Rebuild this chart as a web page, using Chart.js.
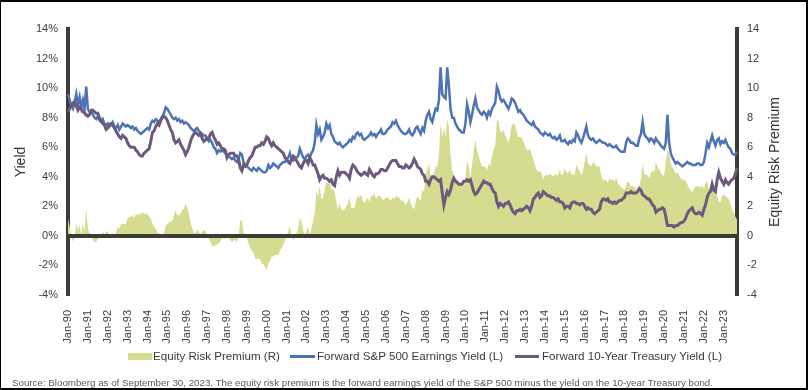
<!DOCTYPE html>
<html>
<head>
<meta charset="utf-8">
<script src="https://cdn.jsdelivr.net/npm/chart.js@4"></script>
<style>
  body { margin: 0; background: #fff; }
  #wrap { position: relative; width: 809px; height: 390px; font-family: 'Liberation Sans', Arial, sans-serif; }
  #frame { position: absolute; left: 0; top: 0; width: 808px; height: 390px; box-sizing: border-box;
           border: 2px solid #000; border-left-width: 1px; pointer-events: none; }
  .lg { position: absolute; top: 349px; font-size: 11.6px; line-height: 14px; color: #3a3a3a; white-space: nowrap; }
  .mk { position: absolute; }
  #src { position: absolute; left: 12px; top: 378px; font-size: 9.75px; line-height: 10px; color: #595959; white-space: nowrap; }
</style>
</head>
<body>
<div id="wrap">
  <canvas id="grafico" width="809" height="390"></canvas>
  <span class="mk" style="left:128px;top:353px;width:24px;height:7px;background:#d5db8f"></span>
  <span class="lg" style="left:153px">Equity Risk Premium (R)</span>
  <span class="mk" style="left:290px;top:355px;width:25px;height:3px;background:#4d73b6"></span>
  <span class="lg" style="left:317px">Forward S&amp;P 500 Earnings Yield (L)</span>
  <span class="mk" style="left:515px;top:355px;width:24px;height:3px;background:#6b5a7b"></span>
  <span class="lg" style="left:542px">Forward 10-Year Treasury Yield (L)</span>
  <div id="src">Source: Bloomberg as of September 30, 2023. The equity risk premium is the forward earnings yield of the S&amp;P 500 minus the yield on the 10-year Treasury bond.</div>
  <div id="frame"></div>
</div>
<script>
// monthly data, Jan-90 .. Sep-23 (one row per year)
const mesesNombres = ["Jan", "Feb", "Mar", "Apr", "May", "Jun", "Jul", "Aug", "Sep", "Oct", "Nov", "Dec"];
const anios = ["90", "91", "92", "93", "94", "95", "96", "97", "98", "99", "00", "01", "02", "03", "04", "05", "06",
  "07", "08", "09", "10", "11", "12", "13", "14", "15", "16", "17", "18", "19", "20", "21", "22", "23"];
const mesesUltimoAnio = 9;

// Forward S&P 500 Earnings Yield (L), %
const earningsYield = [
  9.6, 9.2, 8.8, 8.6, 9.0, 9.6, 8.9, 9.4, 8.7, 9.2, 8.6, 10.1,
  8.6, 8.4, 8.5, 8.2, 8.0, 7.9, 8.1, 7.8, 7.7, 7.9, 7.6, 7.5,
  7.6, 7.4, 7.5, 7.7, 7.4, 7.3, 7.5, 7.2, 7.4, 7.6, 7.5, 7.4,
  7.5, 7.4, 7.3, 7.4, 7.2, 7.3, 7.1, 7.0, 6.9, 7.0, 7.1, 7.2,
  7.3, 7.2, 7.6, 7.8, 7.7, 7.9, 7.8, 7.7, 7.9, 8.1, 8.3, 8.7,
  8.6, 8.4, 8.2, 8.0, 7.9, 8.0, 7.8, 7.9, 7.7, 7.8, 7.6, 7.7,
  7.6, 7.5, 7.3, 7.2, 7.1, 7.2, 7.3, 7.1, 7.0, 6.9, 6.8, 6.8,
  6.6, 6.4, 6.5, 6.3, 6.0, 5.9, 5.6, 5.8, 5.7, 5.8, 5.7, 5.6,
  5.5, 5.4, 5.3, 5.2, 5.3, 5.1, 5.0, 5.2, 5.6, 5.5, 5.0, 4.8,
  4.7, 4.6, 4.5, 4.4, 4.6, 4.5, 4.4, 4.6, 4.5, 4.4, 4.3, 4.3,
  4.4, 4.8, 4.6, 4.7, 4.9, 4.8, 4.7, 4.6, 4.8, 4.9, 5.0, 5.0,
  5.2, 5.3, 5.6, 5.2, 5.1, 5.2, 5.3, 5.4, 5.9, 5.6, 5.3, 5.2,
  5.4, 5.5, 5.3, 5.6, 5.8, 6.3, 7.5, 6.9, 7.2, 6.5, 6.7, 7.0,
  7.6, 7.3, 7.5, 6.9, 6.7, 6.4, 6.3, 6.2, 6.3, 6.1, 6.0, 6.1,
  6.2, 6.3, 6.5, 6.4, 6.7, 6.6, 6.9, 7.0, 6.8, 6.9, 6.6, 6.5,
  6.6, 6.7, 6.8, 7.0, 6.8, 6.9, 6.7, 6.9, 7.0, 7.2, 6.9, 6.9,
  7.0, 7.2, 7.3, 7.4, 7.7, 7.6, 7.8, 7.5, 7.3, 7.1, 7.0, 6.9,
  6.9, 7.0, 7.2, 6.9, 6.8, 7.0, 7.3, 7.4, 7.1, 6.9, 7.3, 7.1,
  7.8, 8.2, 8.4, 7.9, 7.7, 8.2, 8.6, 8.5, 9.2, 11.4, 9.6, 9.4,
  9.3, 11.4, 10.2, 8.6, 8.0, 8.0, 7.6, 7.4, 7.2, 7.1, 7.0, 7.0,
  7.6, 8.9, 8.4, 7.7, 8.2, 8.8, 9.3, 8.7, 8.5, 8.3, 8.2, 8.4,
  8.3, 8.0, 8.4, 8.2, 8.6, 8.8, 9.0, 10.1, 9.8, 9.3, 9.1, 9.2,
  9.0, 8.8, 8.6, 8.9, 9.3, 9.2, 9.0, 8.7, 8.4, 8.5, 8.3, 8.2,
  8.0, 7.8, 7.7, 7.6, 7.5, 7.7, 7.4, 7.3, 7.2, 7.0, 6.9, 6.8,
  7.0, 6.9, 6.8, 6.9, 6.7, 6.6, 6.7, 6.5, 6.6, 6.8, 6.4, 6.4,
  6.5, 6.3, 6.2, 6.4, 6.3, 6.5, 6.4, 7.0, 6.8, 6.5, 6.3, 6.6,
  7.0, 7.4, 6.8, 6.6, 6.5, 6.6, 6.4, 6.3, 6.4, 6.5, 6.4, 6.3,
  6.3, 6.2, 6.1, 6.2, 6.1, 6.0, 6.0, 6.1, 5.9, 5.8, 5.7, 5.7,
  5.7, 6.3, 6.6, 6.5, 6.3, 6.3, 6.2, 6.1, 6.1, 6.6, 6.9, 7.7,
  6.9, 6.7, 6.6, 6.4, 6.6, 6.5, 6.3, 6.6, 6.4, 6.3, 6.1, 6.0,
  5.9, 6.3, 8.2, 6.3, 5.6, 5.3, 5.1, 4.9, 5.0, 4.9, 4.8, 4.7,
  4.8, 4.9, 5.0, 4.9, 4.9, 4.8, 4.8, 4.8, 4.9, 4.9, 4.8, 4.8,
  5.0, 5.6, 6.3, 6.0, 6.4, 6.8, 6.4, 6.1, 6.5, 6.6, 6.2, 6.4,
  6.3, 6.5, 6.2, 6.0, 5.9, 5.6, 5.5, 5.5, 5.7
];

// Forward 10-Year Treasury Yield (L), %
const treasuryYield = [
  8.4, 8.6, 8.8, 9.0, 9.1, 8.8, 8.5, 8.7, 8.6, 8.4, 8.3, 8.2,
  8.1, 8.2, 8.4, 8.5, 8.4, 8.3, 8.3, 8.0, 7.8, 7.6, 7.5, 7.2,
  7.3, 7.5, 7.6, 7.5, 7.3, 7.1, 6.9, 6.7, 6.6, 6.8, 6.7, 6.6,
  6.3, 6.1, 6.0, 6.0, 6.0, 5.8, 5.7, 5.5, 5.4, 5.4, 5.6, 5.7,
  5.8, 5.9, 6.4, 7.0, 7.1, 7.4, 7.6, 7.5, 7.8, 8.0, 8.1, 8.0,
  7.8, 7.5, 7.2, 7.0, 6.5, 6.3, 6.4, 6.5, 6.2, 6.0, 5.8, 5.5,
  5.7, 6.0, 6.4, 6.7, 6.9, 7.0, 6.9, 6.8, 6.9, 6.6, 6.4, 6.5,
  6.6, 6.6, 6.9, 7.0, 6.7, 6.5, 6.2, 6.3, 6.1, 5.9, 5.9, 5.8,
  5.3, 5.5, 5.6, 5.6, 5.6, 5.4, 5.4, 5.2, 4.6, 4.4, 4.8, 4.7,
  4.8, 5.1, 5.3, 5.4, 5.7, 6.0, 6.0, 6.1, 6.1, 6.3, 6.2, 6.4,
  6.7, 6.6, 6.3, 6.1, 6.3, 6.1, 6.0, 5.9, 5.8, 5.7, 5.6, 5.3,
  5.2, 5.0, 4.9, 5.2, 5.4, 5.3, 5.1, 4.9, 4.7, 4.6, 4.9, 5.1,
  5.1, 4.9, 5.3, 5.1, 4.8, 4.8, 4.5, 4.2, 3.8, 4.0, 4.1, 3.9,
  3.9, 3.8, 3.7, 3.8, 3.5, 3.4, 4.0, 4.4, 4.1, 4.3, 4.3, 4.3,
  4.2, 4.1, 3.9, 4.5, 4.8, 4.7, 4.5, 4.3, 4.2, 4.1, 4.2, 4.3,
  4.2, 4.1, 4.5, 4.3, 4.1, 4.0, 4.2, 4.2, 4.3, 4.5, 4.5, 4.4,
  4.4, 4.6, 4.8, 5.0, 5.1, 5.1, 5.1, 4.9, 4.7, 4.7, 4.6, 4.6,
  4.8, 4.7, 4.6, 4.7, 4.9, 5.2, 5.0, 4.7, 4.6, 4.5, 4.2, 4.1,
  3.7, 3.7, 3.5, 3.8, 4.0, 4.0, 3.9, 3.8, 3.7, 3.8, 2.9, 2.1,
  2.6, 3.0, 2.8, 3.1, 3.6, 3.9, 3.7, 3.6, 3.5, 3.5, 3.5, 3.7,
  3.7, 3.8, 3.7, 3.8, 3.4, 3.0, 2.8, 2.9, 3.1, 3.3, 3.5, 3.7,
  3.6, 3.6, 3.5, 3.5, 3.2, 3.0, 2.9, 2.3, 2.0, 2.2, 2.1, 2.0,
  2.2, 2.2, 2.3, 2.1, 1.8, 1.6, 1.5, 1.7, 1.7, 1.8, 1.7, 1.8,
  1.9, 2.0, 1.9, 1.7, 2.0, 2.5, 2.6, 2.8, 2.9, 2.6, 2.7, 3.0,
  2.9, 2.8, 2.7, 2.7, 2.6, 2.6, 2.5, 2.4, 2.5, 2.3, 2.3, 2.2,
  1.9, 2.0, 2.0, 1.9, 2.2, 2.3, 2.3, 2.2, 2.2, 2.1, 2.2, 2.2,
  2.0, 1.8, 1.9, 1.8, 1.8, 1.6, 1.5, 1.6, 1.7, 1.8, 2.3, 2.5,
  2.5, 2.4, 2.5, 2.3, 2.3, 2.2, 2.3, 2.2, 2.3, 2.4, 2.4, 2.5,
  2.6, 2.9, 2.9, 2.9, 3.0, 2.9, 2.9, 2.9, 3.0, 3.2, 3.1, 2.8,
  2.7, 2.6, 2.5, 2.5, 2.3, 2.1, 2.0, 1.6, 1.7, 1.8, 1.8, 1.9,
  1.8, 1.3, 0.7, 0.7, 0.7, 0.7, 0.6, 0.7, 0.7, 0.8, 0.9, 0.9,
  1.0, 1.2, 1.5, 1.7, 1.8, 1.9, 1.6, 1.5, 1.5, 1.6, 1.5, 1.4,
  1.8, 2.1, 2.6, 2.9, 3.0, 3.5, 3.1, 3.0, 3.8, 4.3, 3.9, 3.7,
  3.5, 3.8, 3.6, 3.5, 3.7, 3.8, 3.9, 4.2, 4.6
];

// Equity Risk Premium (R)
const equityRiskPremium = [
  1.2, 0.6, 0.0, -0.4, -0.1, 0.8, 0.4, 0.7, 0.1, 0.8, 0.3, 1.9,
  0.5, 0.2, 0.1, -0.3, -0.4, -0.4, -0.2, -0.2, -0.1, 0.3, 0.1, 0.3,
  0.3, -0.1, -0.1, 0.2, 0.1, 0.2, 0.6, 0.5, 0.8, 0.8, 0.8, 0.8,
  1.2, 1.3, 1.3, 1.4, 1.2, 1.5, 1.4, 1.5, 1.5, 1.6, 1.5, 1.5,
  1.5, 1.3, 1.2, 0.8, 0.6, 0.5, 0.2, 0.2, 0.1, 0.1, 0.2, 0.7,
  0.8, 0.9, 1.0, 1.0, 1.4, 1.7, 1.4, 1.4, 1.5, 1.8, 1.8, 2.2,
  1.9, 1.5, 0.9, 0.5, 0.2, 0.2, 0.4, 0.3, 0.1, 0.3, 0.4, 0.3,
  0.0, -0.2, -0.4, -0.7, -0.7, -0.6, -0.6, -0.5, -0.4, -0.1, -0.2, -0.2,
  0.2, -0.1, -0.3, -0.4, -0.3, -0.3, -0.4, 0.0, 1.0, 1.1, 0.2, 0.1,
  -0.1, -0.5, -0.8, -1.0, -1.1, -1.5, -1.6, -1.5, -1.6, -1.9, -1.9, -2.1,
  -2.3, -1.8, -1.7, -1.4, -1.4, -1.3, -1.3, -1.3, -1.0, -0.8, -0.6, -0.3,
  0.0, 0.3, 0.7, 0.0, -0.3, -0.1, 0.2, 0.5, 1.2, 1.0, 0.4, 0.1,
  0.3, 0.6, 0.0, 0.5, 1.0, 1.5, 3.0, 2.7, 3.4, 2.5, 2.6, 3.1,
  3.7, 3.5, 3.8, 3.1, 3.2, 3.0, 2.3, 1.8, 2.2, 1.8, 1.7, 1.8,
  2.0, 2.2, 2.6, 1.9, 1.9, 1.9, 2.4, 2.7, 2.6, 2.8, 2.4, 2.2,
  2.4, 2.6, 2.3, 2.7, 2.7, 2.9, 2.5, 2.7, 2.7, 2.7, 2.4, 2.5,
  2.6, 2.6, 2.5, 2.4, 2.6, 2.5, 2.7, 2.6, 2.6, 2.4, 2.4, 2.3,
  2.1, 2.3, 2.6, 2.2, 1.9, 1.8, 2.3, 2.7, 2.5, 2.4, 3.1, 3.0,
  4.1, 4.5, 4.9, 4.1, 3.7, 4.2, 4.7, 4.7, 5.5, 7.6, 6.7, 7.3,
  6.7, 7.9, 7.4, 5.5, 4.4, 4.1, 3.9, 3.8, 3.7, 3.6, 3.5, 3.3,
  3.9, 5.1, 4.7, 3.9, 4.8, 5.8, 6.5, 5.8, 5.4, 5.0, 4.7, 4.7,
  4.7, 4.4, 4.9, 4.7, 5.4, 5.8, 6.1, 7.8, 7.8, 7.1, 7.0, 7.2,
  6.8, 6.6, 6.3, 6.8, 7.5, 7.6, 7.5, 7.0, 6.7, 6.7, 6.6, 6.4,
  6.1, 5.8, 5.8, 5.9, 5.5, 5.2, 4.8, 4.5, 4.3, 4.4, 4.2, 3.8,
  4.1, 4.1, 4.1, 4.2, 4.1, 4.0, 4.2, 4.1, 4.1, 4.5, 4.1, 4.2,
  4.6, 4.3, 4.2, 4.5, 4.1, 4.2, 4.1, 4.8, 4.6, 4.4, 4.1, 4.4,
  5.0, 5.6, 4.9, 4.8, 4.7, 5.0, 4.9, 4.7, 4.7, 4.7, 4.1, 3.8,
  3.8, 3.8, 3.6, 3.9, 3.8, 3.8, 3.7, 3.9, 3.6, 3.4, 3.3, 3.2,
  3.1, 3.4, 3.7, 3.6, 3.3, 3.4, 3.3, 3.2, 3.1, 3.4, 3.8, 4.9,
  4.2, 4.1, 4.1, 3.9, 4.3, 4.4, 4.3, 5.0, 4.7, 4.5, 4.3, 4.1,
  4.1, 5.0, 5.8, 5.6, 4.9, 4.6, 4.5, 4.2, 4.3, 4.1, 3.9, 3.8,
  3.8, 3.7, 3.5, 3.2, 3.1, 2.9, 3.2, 3.3, 3.4, 3.3, 3.3, 3.4,
  3.2, 3.5, 3.7, 3.1, 3.4, 3.3, 3.3, 3.1, 2.7, 2.3, 2.3, 2.7,
  2.8, 2.7, 2.6, 2.5, 2.2, 1.8, 1.6, 1.3, 1.1
];

// etiquetas mensuales "Jan-90", "Feb-90", ...
const etiquetas = [];
anios.forEach((a, i) => {
  const n = i === anios.length - 1 ? mesesUltimoAnio : 12;
  for (let m = 0; m < n; m++) etiquetas.push(mesesNombres[m] + "-" + a);
});

const colorEje = "#3b3b37";
const fuente = "'Liberation Sans', Arial, sans-serif";

// linea del cero y titulo del eje derecho (leido de abajo hacia arriba como el izquierdo)
const extras = {
  id: "extras",
  afterDatasetsDraw(chart) {
    const ctx = chart.ctx;
    const area = chart.chartArea;
    const y0 = chart.scales.y.getPixelForValue(0);
    ctx.save();
    ctx.strokeStyle = colorEje;
    ctx.lineWidth = 4;
    ctx.beginPath();
    ctx.moveTo(area.left, y0);
    ctx.lineTo(area.right, y0);
    ctx.stroke();
    ctx.restore();
  },
  afterDraw(chart) {
    const ctx = chart.ctx;
    const area = chart.chartArea;
    ctx.save();
    ctx.translate(775, (area.top + area.bottom) / 2);
    ctx.rotate(-Math.PI / 2);
    ctx.font = "14px " + fuente;
    ctx.fillStyle = "#333";
    ctx.textAlign = "center";
    ctx.textBaseline = "middle";
    ctx.fillText("Equity Risk Premium", 0, 0);
    ctx.restore();
  },
};

const ctx = document.getElementById("grafico").getContext("2d");
new Chart(ctx, {
  type: "line",
  data: {
    labels: etiquetas,
    datasets: [
      {
        label: "Equity Risk Premium (R)",
        data: equityRiskPremium,
        yAxisID: "y1",
        fill: "origin",
        backgroundColor: "#d5db8f",
        borderWidth: 0,
        pointRadius: 0,
        order: 3,
      },
      {
        label: "Forward S&P 500 Earnings Yield (L)",
        data: earningsYield,
        yAxisID: "y",
        borderColor: "#4d73b6",
        borderWidth: 2.5,
        pointRadius: 0,
        fill: false,
        order: 2,
      },
      {
        label: "Forward 10-Year Treasury Yield (L)",
        data: treasuryYield,
        yAxisID: "y",
        borderColor: "#6b5a7b",
        borderWidth: 3,
        pointRadius: 0,
        fill: false,
        order: 1,
      },
    ],
  },
  options: {
    responsive: false,
    animation: false,
    layout: { padding: { top: 29, bottom: 0, left: 0, right: 0 } },
    plugins: { legend: { display: false }, tooltip: { enabled: false } },
    scales: {
      x: {
        grid: { display: false },
        border: { display: false },
        ticks: {
          autoSkip: false,
          minRotation: 90,
          maxRotation: 90,
          padding: 7,
          color: "#404040",
          font: { family: fuente, size: 11 },
          callback: function (val, i) {
            return i % 12 === 0 ? this.getLabelForValue(val) : null;
          },
        },
        afterFit: (s) => { s.height = 95; },
      },
      y: {
        position: "left",
        min: -4,
        max: 14,
        z: 1,
        border: { display: true, color: colorEje, width: 4 },
        grid: { display: false, drawTicks: false },
        ticks: {
          stepSize: 2,
          padding: 10,
          color: "#404040",
          font: { family: fuente, size: 11 },
          callback: (v) => v + "%",
        },
        title: {
          display: true,
          text: "Yield",
          color: "#333",
          font: { family: fuente, size: 14 },
          padding: { top: 13, bottom: 0 },
        },
        afterFit: (s) => { s.width = 68; },
      },
      y1: {
        position: "right",
        min: -4,
        max: 14,
        z: 1,
        border: { display: true, color: colorEje, width: 4 },
        grid: { display: false, drawTicks: false },
        ticks: {
          stepSize: 2,
          padding: 10,
          color: "#404040",
          font: { family: fuente, size: 11 },
        },
        afterFit: (s) => { s.width = 72; },
      },
    },
  },
  plugins: [extras],
});
</script>
</body>
</html>
